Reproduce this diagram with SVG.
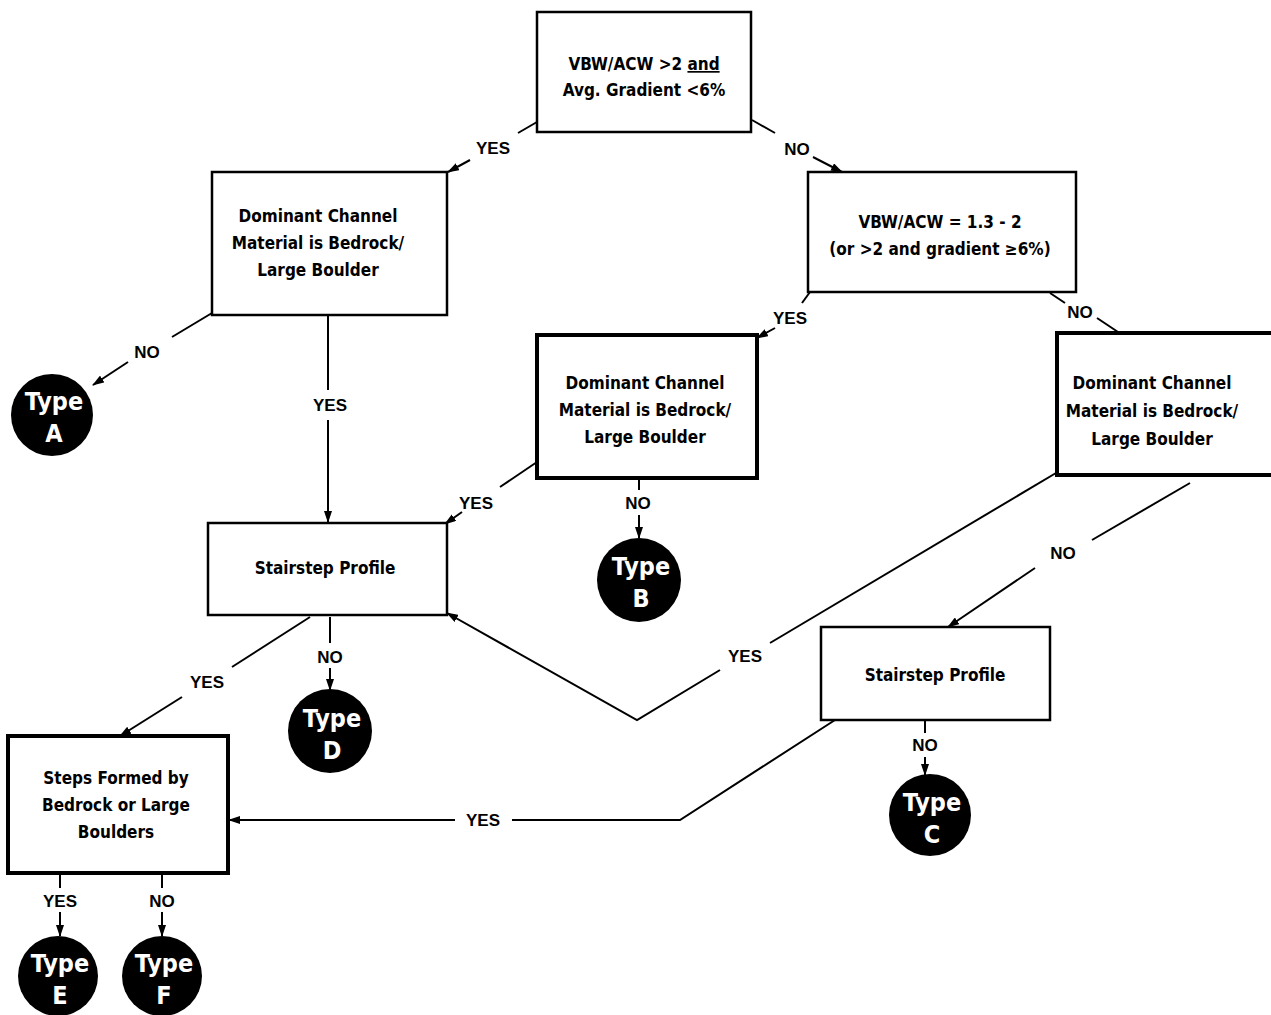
<svg xmlns="http://www.w3.org/2000/svg" width="1271" height="1015" viewBox="0 0 1271 1015">
<style>
.box{fill:#fff;stroke:#000;stroke-width:2.5}
.dbl{fill:#fff;stroke:#000;stroke-width:4}
.bt{font-family:"DejaVu Sans Condensed","Liberation Sans Narrow","Liberation Sans",sans-serif;font-weight:bold;font-size:17px;text-anchor:middle;fill:#000}
.lbl{font-family:"Liberation Sans",Arial,sans-serif;font-weight:bold;font-size:17px;text-anchor:middle;fill:#000}
.term{fill:#000}
.tt{font-family:"DejaVu Sans Condensed","Liberation Sans Narrow","Liberation Sans",sans-serif;font-weight:bold;font-size:25px;text-anchor:middle;fill:#fff}
.ln{fill:none;stroke:#000;stroke-width:2}
.ar{fill:none;stroke:#000;stroke-width:2;marker-end:url(#ah)}
</style>
<defs>
<marker id="ah" viewBox="0 0 12 8" refX="11" refY="4" markerWidth="12" markerHeight="8" markerUnits="userSpaceOnUse" orient="auto">
<path d="M0,0 L12,4 L0,8 Z" fill="#000"/>
</marker>
</defs>
<g id="connectors">
<path class="ln" d="M537,122 L518,133"/><path class="ar" d="M470,160 L448,172"/>
<path class="ln" d="M752,120 L775,133"/><path class="ar" d="M813,157 L842,172"/>
<path class="ln" d="M212,313 L172,337"/><path class="ar" d="M128,362 L93,385"/>
<path class="ln" d="M328,315 L328,390"/><path class="ar" d="M328,420 L328,522"/>
<path class="ln" d="M810,292 L802,303"/><path class="ar" d="M775,328 L757,338"/>
<path class="ln" d="M1050,293 L1065,303"/><path class="ar" d="M1097,318 L1130,340"/>
<path class="ln" d="M537,462 L500,487"/><path class="ar" d="M462,512 L445,524"/>
<path class="ln" d="M639,478 L639,490"/><path class="ar" d="M639,515 L639,538"/>
<path class="ln" d="M1056,473 L770,643"/><path class="ar" d="M720,670 L637,720 L447,613"/>
<path class="ln" d="M1190,483 L1092,540"/><path class="ar" d="M1035,568 L948,627"/>
<path class="ln" d="M310,617 L232,667"/><path class="ar" d="M182,697 L120,736"/>
<path class="ln" d="M330,617 L330,643"/><path class="ar" d="M330,668 L330,690"/>
<path class="ln" d="M835,720 L680,820 L512,820"/><path class="ar" d="M455,820 L229,820"/>
<path class="ln" d="M925,720 L925,733"/><path class="ar" d="M925,757 L925,775"/>
<path class="ln" d="M60,873 L60,888"/><path class="ar" d="M60,912 L60,936"/>
<path class="ln" d="M162,873 L162,888"/><path class="ar" d="M162,912 L162,936"/>
<text class="lbl" x="493" y="154">YES</text>
<text class="lbl" x="797" y="155">NO</text>
<text class="lbl" x="147" y="358">NO</text>
<text class="lbl" x="330" y="411">YES</text>
<text class="lbl" x="790" y="324">YES</text>
<text class="lbl" x="1080" y="318">NO</text>
<text class="lbl" x="476" y="509">YES</text>
<text class="lbl" x="638" y="509">NO</text>
<text class="lbl" x="1063" y="559">NO</text>
<text class="lbl" x="745" y="662">YES</text>
<text class="lbl" x="207" y="688">YES</text>
<text class="lbl" x="330" y="663">NO</text>
<text class="lbl" x="483" y="826">YES</text>
<text class="lbl" x="925" y="751">NO</text>
<text class="lbl" x="60" y="907">YES</text>
<text class="lbl" x="162" y="907">NO</text>
</g>
<g id="n1"><rect class="box" x="537" y="12" width="214" height="120"/>
<text class="bt" x="644" y="70">VBW/ACW &gt;2 <tspan text-decoration="underline">and</tspan></text>
<text class="bt" x="644" y="96">Avg. Gradient &lt;6%</text></g>
<g id="n2"><rect class="box" x="212" y="172" width="235" height="143"/>
<text class="bt" x="318" y="222">Dominant Channel</text>
<text class="bt" x="318" y="249">Material is Bedrock/</text>
<text class="bt" x="318" y="276">Large Boulder</text></g>
<g id="n3"><rect class="box" x="808" y="172" width="268" height="120"/>
<text class="bt" x="940" y="228">VBW/ACW = 1.3 - 2</text>
<text class="bt" x="940" y="255">(or &gt;2 and gradient ≥6%)</text></g>
<g id="n4"><rect class="dbl" x="537" y="335" width="220" height="143"/>
<text class="bt" x="645" y="389">Dominant Channel</text>
<text class="bt" x="645" y="416">Material is Bedrock/</text>
<text class="bt" x="645" y="443">Large Boulder</text></g>
<g id="n5"><rect class="dbl" x="1057" y="333" width="216" height="142"/>
<text class="bt" x="1152" y="389">Dominant Channel</text>
<text class="bt" x="1152" y="417">Material is Bedrock/</text>
<text class="bt" x="1152" y="445">Large Boulder</text></g>
<g id="n6"><rect class="box" x="208" y="523" width="239" height="92"/>
<text class="bt" x="325" y="574">Stairstep Profile</text></g>
<g id="n7"><rect class="box" x="821" y="627" width="229" height="93"/>
<text class="bt" x="935" y="681">Stairstep Profile</text></g>
<g id="n8"><rect class="dbl" x="8" y="736" width="220" height="137"/>
<text class="bt" x="116" y="784">Steps Formed by</text>
<text class="bt" x="116" y="811">Bedrock or Large</text>
<text class="bt" x="116" y="838">Boulders</text></g>
<g id="tA"><circle class="term" cx="52" cy="415" r="41"/><text class="tt" x="54" y="410">Type</text><text class="tt" x="54" y="442">A</text></g>
<g id="tB"><circle class="term" cx="639" cy="580" r="42"/><text class="tt" x="641" y="575">Type</text><text class="tt" x="641" y="607">B</text></g>
<g id="tD"><circle class="term" cx="330" cy="731" r="42"/><text class="tt" x="332" y="727">Type</text><text class="tt" x="332" y="759">D</text></g>
<g id="tC"><circle class="term" cx="930" cy="815" r="41"/><text class="tt" x="932" y="811">Type</text><text class="tt" x="932" y="843">C</text></g>
<g id="tE"><circle class="term" cx="58" cy="976" r="40"/><text class="tt" x="60" y="972">Type</text><text class="tt" x="60" y="1004">E</text></g>
<g id="tF"><circle class="term" cx="162" cy="976" r="40"/><text class="tt" x="164" y="972">Type</text><text class="tt" x="164" y="1004">F</text></g>
</svg>
